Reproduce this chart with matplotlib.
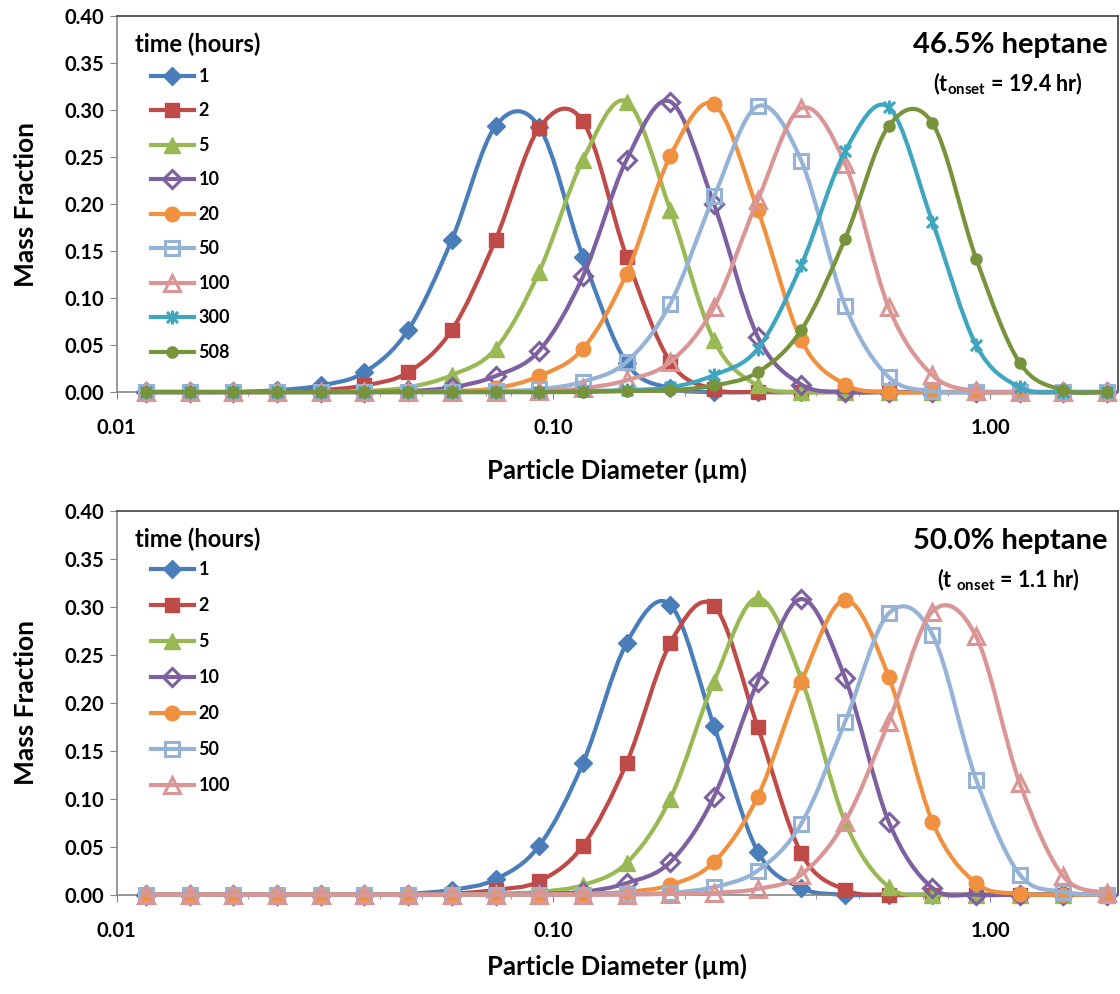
"""Mass-fraction size distributions at two heptane contents."""

import numpy as np
import matplotlib

matplotlib.use("Agg")
from matplotlib import pyplot as plt
from matplotlib.lines import Line2D
from matplotlib.patches import PathPatch
from matplotlib.path import Path
from matplotlib.ticker import FixedLocator, LogLocator, NullFormatter

plt.rcParams["font.family"] = ["Lato", "DejaVu Sans"]
plt.rcParams["font.weight"] = "bold"
plt.rcParams["mathtext.fontset"] = "custom"
plt.rcParams["mathtext.bf"] = "Lato:bold"
plt.rcParams["mathtext.rm"] = "Lato:bold"

# particle diameter bins (um), 10 per decade
diam_um = [0.01168, 0.01470, 0.01851, 0.02330, 0.02934, 0.03693, 0.04650, 0.05854,
           0.07370, 0.09278, 0.1168, 0.1470, 0.1851, 0.2330, 0.2934, 0.3693,
           0.4650, 0.5854, 0.7370, 0.9278, 1.168, 1.470, 1.851]

# 46.5% heptane
top_times = ["1", "2", "5", "10", "20", "50", "100", "300", "508"]
top_t1 = [0, 0, 0, 0.002, 0.007, 0.021, 0.066, 0.162, 0.283, 0.282, 0.144, 0.031,
          0.004, 0, 0, 0, 0, 0, 0, 0, 0, 0, 0]
top_t2 = [0, 0, 0, 0, 0.002, 0.007, 0.021, 0.066, 0.162, 0.281, 0.288, 0.144,
          0.032, 0.003, 0, 0, 0, 0, 0, 0, 0, 0, 0]
top_t5 = [0, 0, 0, 0, 0, 0.001, 0.005, 0.018, 0.046, 0.128, 0.247, 0.309,
          0.194, 0.055, 0.007, 0, 0, 0, 0, 0, 0, 0, 0]
top_t10 = [0, 0, 0, 0, 0, 0, 0.001, 0.005, 0.017, 0.044, 0.123, 0.247,
           0.309, 0.200, 0.059, 0.008, 0, 0, 0, 0, 0, 0, 0]
top_t20 = [0, 0, 0, 0, 0, 0, 0, 0.001, 0.004, 0.017, 0.046, 0.126,
           0.251, 0.306, 0.194, 0.055, 0.008, 0, 0, 0, 0, 0, 0]
top_t50 = [0, 0, 0, 0, 0, 0, 0, 0, 0.001, 0.003, 0.011, 0.032,
           0.094, 0.208, 0.304, 0.246, 0.092, 0.016, 0.001, 0, 0, 0, 0]
top_t100 = [0, 0, 0, 0, 0, 0, 0, 0, 0, 0.001, 0.004, 0.0125,
            0.032, 0.090, 0.204, 0.302, 0.243, 0.090, 0.018, 0.001, 0, 0, 0]
top_t300 = [0, 0, 0, 0, 0, 0, 0, 0, 0, 0, 0.001, 0.002,
            0.005, 0.018, 0.046, 0.135, 0.256, 0.303, 0.181, 0.050, 0.005, 0, 0]
top_t508 = [0, 0, 0, 0, 0, 0, 0, 0, 0, 0, 0, 0.001,
            0.002, 0.007, 0.021, 0.066, 0.163, 0.283, 0.286, 0.142, 0.031, 0.002, 0]

# 50.0% heptane
bottom_times = ["1", "2", "5", "10", "20", "50", "100"]
bottom_t1 = [0, 0, 0, 0, 0, 0, 0.001, 0.005, 0.016, 0.051, 0.137, 0.262,
             0.302, 0.176, 0.045, 0.007, 0, 0, 0, 0, 0, 0, 0]
bottom_t2 = [0, 0, 0, 0, 0, 0, 0, 0.001, 0.005, 0.014, 0.051, 0.137,
             0.262, 0.301, 0.175, 0.043, 0.005, 0, 0, 0, 0, 0, 0]
bottom_t5 = [0, 0, 0, 0, 0, 0, 0, 0, 0.001, 0.003, 0.010, 0.033,
             0.100, 0.222, 0.309, 0.225, 0.076, 0.008, 0, 0, 0, 0, 0]
bottom_t10 = [0, 0, 0, 0, 0, 0, 0, 0, 0, 0.001, 0.003, 0.012,
              0.034, 0.102, 0.222, 0.308, 0.226, 0.076, 0.007, 0, 0, 0, 0]
bottom_t20 = [0, 0, 0, 0, 0, 0, 0, 0, 0, 0, 0.001, 0.003,
              0.010, 0.034, 0.102, 0.222, 0.307, 0.227, 0.076, 0.012, 0.001, 0, 0]
bottom_t50 = [0, 0, 0, 0, 0, 0, 0, 0, 0, 0, 0, 0.001,
              0.002, 0.008, 0.025, 0.074, 0.180, 0.293, 0.271, 0.120, 0.021, 0.003, 0]
bottom_t100 = [0, 0, 0, 0, 0, 0, 0, 0, 0, 0, 0, 0,
               0.001, 0.002, 0.006, 0.021, 0.076, 0.180, 0.295, 0.269, 0.116, 0.019, 0.002]

ASTER = Path([(-1, -1), (1, 1), (-1, 1), (1, -1), (0, -1.25), (0, 1.25)],
             [Path.MOVETO, Path.LINETO] * 3)

# color, marker, size, filled
STYLES = [
    ("#4A7EBB", "D", 9, True),
    ("#BE4B48", "s", 10.5, True),
    ("#98B954", "^", 11, True),
    ("#7D60A0", "D", 9, False),
    ("#F0913F", "o", 10.5, True),
    ("#95B3D7", "s", 10.5, False),
    ("#D99694", "^", 11.5, False),
    ("#3FA6C0", ASTER, 10, False),
    ("#77933C", "o", 8, True),
]
LINE_W = 3.0


def smooth_path(xs, ys):
    # Excel-style smoothed line: cubic Bezier through the points (log-x space)
    pts = np.column_stack([np.log10(xs), ys])
    n = len(pts)
    verts = [pts[0]]
    codes = [Path.MOVETO]
    for i in range(n - 1):
        p0, p1 = pts[max(i - 1, 0)], pts[i]
        p2, p3 = pts[i + 1], pts[min(i + 2, n - 1)]
        verts += [p1 + (p2 - p0) / 6, p2 - (p3 - p1) / 6, p2]
        codes += [Path.CURVE4] * 3
    verts = np.array(verts)
    verts[:, 0] = 10 ** verts[:, 0]
    return Path(verts, codes)


def marker_kw(style):
    color, marker, size, filled = style
    return dict(
        marker=marker,
        markersize=size,
        markerfacecolor=color if filled else "none",
        markeredgecolor=color,
        markeredgewidth=1.0 if filled else 2.2,
    )


def draw_panel(ax, series, labels, title, subtitle, legend_top, legend_gap):
    handles = []
    for i, (ys, label) in enumerate(zip(series, labels)):
        style = STYLES[i]
        patch = PathPatch(smooth_path(diam_um, ys), facecolor="none",
                          edgecolor=style[0], lw=LINE_W, zorder=2 + 2 * i,
                          clip_on=False)
        ax.add_patch(patch)
        ax.plot(diam_um, ys, linestyle="none", zorder=3 + 2 * i, clip_on=False,
                **marker_kw(style))
        handles.append(Line2D([], [], color=style[0], lw=LINE_W, **marker_kw(style)))

    ax.set_xscale("log")
    ax.set_xlim(0.01, 1.96)
    ax.set_ylim(0, 0.40)
    ax.xaxis.set_major_locator(FixedLocator([0.01, 0.1, 1.0]))
    ax.set_xticklabels(["0.01", "0.10", "1.00"])
    ax.xaxis.set_minor_locator(LogLocator(base=10, subs=np.arange(2, 10)))
    ax.xaxis.set_minor_formatter(NullFormatter())
    yt = np.arange(0, 0.401, 0.05)
    ax.set_yticks(yt)
    ax.set_yticklabels([f"{v:.2f}" for v in yt])

    for side in ("left", "bottom"):
        ax.spines[side].set_color("#868686")
        ax.spines[side].set_linewidth(1.2)
    for side in ("top", "right"):
        ax.spines[side].set_color("#404040")
        ax.spines[side].set_linewidth(1.2)
    ax.tick_params(axis="y", which="major", direction="out", length=5,
                   color="#868686", labelsize=14.5, pad=4)
    ax.tick_params(axis="x", which="major", direction="out", length=5,
                   color="#868686", labelsize=14.5, pad=14)
    ax.tick_params(axis="x", which="minor", direction="out", length=3,
                   color="#868686")

    ax.set_xlabel("Particle Diameter (\u00b5m)", fontsize=18.5, fontweight="bold",
                  va="center")
    ax.set_ylabel("Mass Fraction", fontsize=19, fontweight="bold", va="center")
    ax.yaxis.set_label_coords(-0.09, 0.5)

    ax.text(0.018, 0.925, "time (hours)", transform=ax.transAxes, fontsize=17,
            fontweight="bold", ha="left", va="center")
    ax.legend(handles, labels, loc="upper left", bbox_to_anchor=(0.034, legend_top),
              frameon=False, fontsize=13, handlelength=2.4, handletextpad=0.25,
              labelspacing=legend_gap, borderaxespad=0, borderpad=0)

    ax.text(0.892, 0.922, title, transform=ax.transAxes, fontsize=21,
            fontweight="bold", ha="center", va="center")
    ax.text(0.89, 0.82, subtitle, transform=ax.transAxes, fontsize=15.5,
            fontweight="bold", ha="center", va="center")


fig = plt.figure(figsize=(11.2, 9.94), dpi=100)
ax_top = fig.add_axes([0.1041, 0.6056, 0.8941, 0.3783])
ax_bottom = fig.add_axes([0.1041, 0.0999, 0.8941, 0.3863])

draw_panel(
    ax_top,
    [top_t1, top_t2, top_t5, top_t10, top_t20, top_t50, top_t100, top_t300, top_t508],
    top_times,
    "46.5% heptane",
    r"(t$_{\mathbf{onset}}$ = 19.4 hr)",
    0.862,
    0.97,
)
ax_top.xaxis.set_label_coords(0.5, -0.207)

draw_panel(
    ax_bottom,
    [bottom_t1, bottom_t2, bottom_t5, bottom_t10, bottom_t20, bottom_t50, bottom_t100],
    bottom_times,
    "50.0% heptane",
    r"(t $_{\mathbf{onset}}$ = 1.1 hr)",
    0.868,
    1.05,
)
ax_bottom.xaxis.set_label_coords(0.5, -0.186)

fig.savefig("out.png", dpi=100)
plt.close(fig)
